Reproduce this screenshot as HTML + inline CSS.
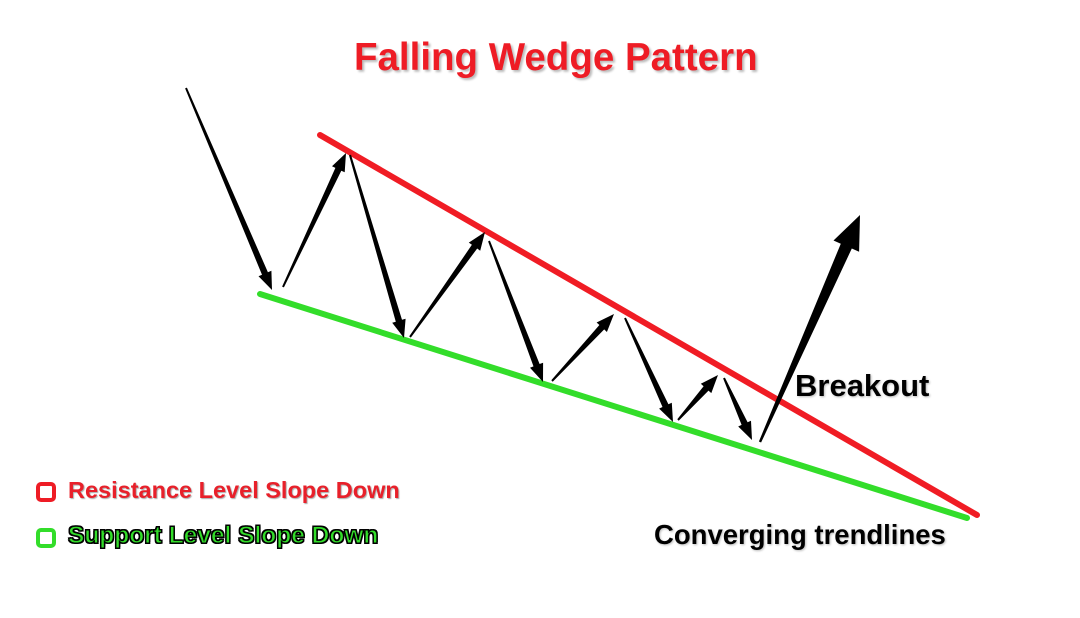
<!DOCTYPE html>
<html><head><meta charset="utf-8"><style>
body{margin:0;width:1080px;height:618px;background:#fff;overflow:hidden;font-family:"Liberation Sans",sans-serif}
svg{position:absolute;left:0;top:0}
.t{position:absolute;font-weight:bold;white-space:nowrap}
</style></head><body>
<svg id="s" width="1080" height="618">
<line x1="320" y1="135" x2="977" y2="515" stroke="#f01c24" stroke-width="6" stroke-linecap="round"/>
<line x1="260" y1="294" x2="967" y2="518" stroke="#33dd2a" stroke-width="6" stroke-linecap="round"/>
<g id="arr" fill="#000"></g>
</svg>
<div class="t" style="left:354px;top:36px;font-size:38.5px;color:#ee1c25;text-shadow:2px 2px 2px #bbb">Falling Wedge Pattern</div>
<div class="t" style="left:795px;top:368px;font-size:31px;color:#000;text-shadow:1px 1px 2px #bbb">Breakout</div>
<div class="t" style="left:654px;top:519px;font-size:27.5px;color:#000;text-shadow:1px 1px 2px #bbb">Converging trendlines</div>
<div style="position:absolute;left:36px;top:482px;width:12px;height:12px;border:4px solid #ee1c25;border-radius:5px"></div>
<div class="t" style="left:68px;top:477px;font-size:23.5px;color:#e8202a;text-shadow:1px 1px 1px #aaa">Resistance Level Slope Down</div>
<div style="position:absolute;left:36px;top:528px;width:12px;height:12px;border:4px solid #33dd2a;border-radius:5px"></div>
<div class="t" style="left:68px;top:522px;font-size:24.5px;color:#33dd2a;-webkit-text-stroke:1px #000;text-shadow:1px 1px 0 #000,-1px -1px 0 #000,1px -1px 0 #000,-1px 1px 0 #000">Support Level Slope Down</div>
<script>
var A=[[186,88,272,290],[283,287,346,153],[350,155,404,338],[410,337,485,232],[489,241,543,382],[552,381,614,314],[625,318,673,422],[678,420,718,375],[724,378,752,440]];
var g=document.getElementById('arr'),p='';
function arrow(x0,y0,x1,y1,w0,w1,hl,hw){
 var dx=x1-x0,dy=y1-y0,L=Math.hypot(dx,dy),ux=dx/L,uy=dy/L,nx=-uy,ny=ux;
 var bx=x1-ux*hl,by=y1-uy*hl;
 var pts=[[x0+nx*w0/2,y0+ny*w0/2],[bx+nx*w1/2,by+ny*w1/2],[bx+nx*hw/2,by+ny*hw/2],[x1,y1],[bx-nx*hw/2,by-ny*hw/2],[bx-nx*w1/2,by-ny*w1/2],[x0-nx*w0/2,y0-ny*w0/2]];
 p+='<polygon points="'+pts.map(function(q){return q[0].toFixed(1)+','+q[1].toFixed(1)}).join(' ')+'"/>';
}
A.forEach(function(a){arrow(a[0],a[1],a[2],a[3],2,6.5,18,14)});
arrow(760,442,860,215,2.5,12,34,28);
g.innerHTML=p;
</script>
</body></html>
